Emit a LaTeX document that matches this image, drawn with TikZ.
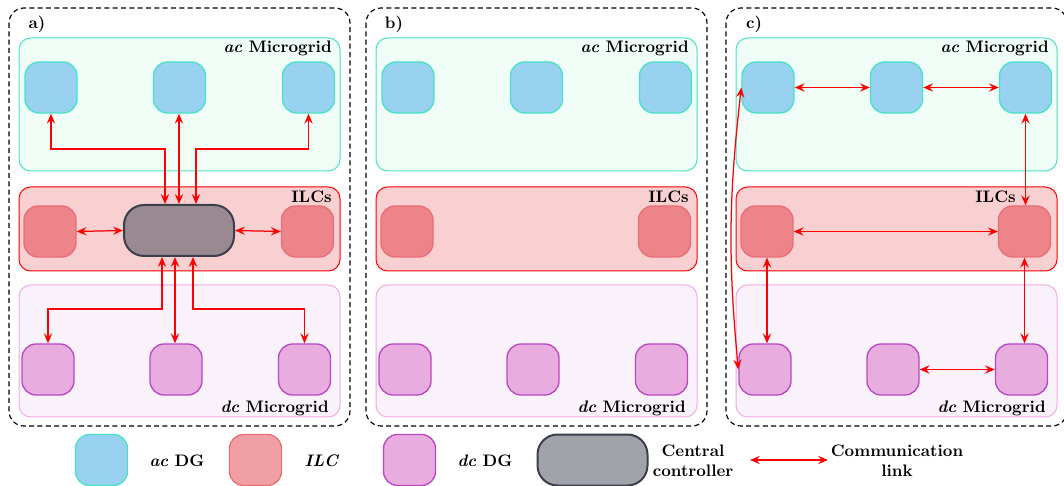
\documentclass[tikz,border=0pt]{standalone}
\usepackage{amsmath,amssymb}
\usepackage{tikz}
\usetikzlibrary{arrows.meta}

\definecolor{acline}{RGB}{72,226,200}
\definecolor{acfill}{RGB}{152,210,240}
\definecolor{acback}{RGB}{240,252,246}
\definecolor{ilcred}{RGB}{218,18,28}
\definecolor{ilcline}{RGB}{232,110,120}
\definecolor{ilcback}{RGB}{248,208,210}
\definecolor{dcdgline}{RGB}{184,72,196}
\definecolor{dcfill}{RGB}{232,172,222}
\definecolor{dcline}{RGB}{240,170,230}
\definecolor{dcback}{RGB}{250,242,250}
\definecolor{ctrlline}{RGB}{60,62,75}
\definecolor{ctrlfill}{RGB}{152,138,144}
\definecolor{ctrlleg}{RGB}{160,164,170}

\begin{document}
\begin{tikzpicture}[x=0.6pt,y=-0.6pt,
    panel/.style={draw=black,densely dashed,line width=0.7pt,rounded corners=9pt},
    acbox/.style={draw=acline,fill=acback,line width=0.6pt,rounded corners=7pt},
    ilcbox/.style={draw=red,fill=ilcback,line width=0.6pt,rounded corners=7pt},
    dcbox/.style={draw=dcline,fill=dcback,line width=0.6pt,rounded corners=7pt},
    unit/.style={minimum width=31.2pt,minimum height=30.6pt,rounded corners=8.4pt,line width=0.8pt,inner sep=0pt},
    acdg/.style={unit,draw=acline,fill=acfill},
    ilc/.style={unit,draw=ilcline,fill=ilcred,fill opacity=0.4},
    dcdg/.style={unit,draw=dcdgline,fill=dcfill},
    ctrl/.style={minimum width=66pt,minimum height=30.6pt,rounded corners=12pt,line width=1.2pt,draw=ctrlline,fill=ctrlfill,inner sep=0pt},
    comm/.style={red,line width=0.75pt,<->,>={Stealth[length=6pt,width=5pt,inset=2.2pt]}},
    lbl/.style={font=\bfseries,inner sep=0pt}]
  \useasboundingbox (0,0) rectangle (1064,486);

  % the three panels
  \foreach \p/\s/\lx in {a/0/332,b/357/332,c/717/299}{
    \begin{scope}[xshift=\s*0.6pt]
      \draw[panel] (9,8) rectangle (350,426);
      \node[lbl,anchor=base] (\p-tag) at (37,29) {\p)};
      % microgrids
      \draw[acbox] (19,38) rectangle (340,171);
      \draw[ilcbox] (19,187) rectangle (340,271);
      \draw[dcbox] (19,285) rectangle (340,417);
      \node[lbl,anchor=base east] (\p-aclbl) at (332,53) {\textit{ac} Microgrid};
      \node[lbl,anchor=base east] (\p-ilclbl) at (\lx,203) {ILCs};
      \node[lbl,anchor=base east] (\p-dclbl) at (329,413) {\textit{dc} Microgrid};
      % units
      \node[acdg] (\p-ac1) at (51,87.5) {};
      \node[acdg] (\p-ac2) at (179.5,87.5) {};
      \node[acdg] (\p-ac3) at (308.5,87.5) {};
      \node[ilc] (\p-il1) at (50,231.5) {};
      \node[ilc] (\p-il2) at (307.5,231.5) {};
      \node[dcdg] (\p-dc1) at (48,369.5) {};
      \node[dcdg] (\p-dc2) at (176,369.5) {};
      \node[dcdg] (\p-dc3) at (304.5,369.5) {};
    \end{scope}
  }

  % a) central controller
  \node[ctrl] (cc) at (179,230.5) {};
  \draw[comm] ([xshift=-8.4pt]cc.north) -- ++(0,-55) -| (a-ac1.south);
  \draw[comm] (cc.north) -- (cc.north |- a-ac2.south);
  \draw[comm] ([xshift=10.2pt]cc.north) -- ++(0,-55) -| (a-ac3.south);
  \draw[comm] (a-il1.east) -- (cc.west);
  \draw[comm] (cc.east) -- (a-il2.west);
  \draw[comm] ([xshift=-10.2pt]cc.south) -- ++(0,52) -| (a-dc1.north);
  \draw[comm] ([xshift=-2.4pt]cc.south) -- ([xshift=-2.4pt]cc.south |- a-dc2.north);
  \draw[comm] ([xshift=8.4pt]cc.south) -- ++(0,52) -| (a-dc3.north);

  % c) distributed links
  \draw[comm] (c-ac1.east) -- (c-ac2.west);
  \draw[comm] (c-ac2.east) -- (c-ac3.west);
  \draw[comm] (c-ac3.south) -- (c-ac3.south |- c-il2.north);
  \draw[comm] (c-il1.east) -- (c-il2.west);
  \draw[comm] (c-il1.south) -- (c-il1.south |- c-dc1.north);
  \draw[comm] (c-il2.south) -- (c-il2.south |- c-dc3.north);
  \draw[comm] (c-dc2.east) -- (c-dc3.west);
  \draw[comm] (c-ac1.west) to[bend right=6] (c-dc1.west);

  % legend
  \node[acdg] (lg-ac) at (101.5,460) {};
  \node[lbl] (lg-actx) at (177,461) {\textit{ac} DG};
  \node[ilc] (lg-il) at (255.5,460) {};
  \node[lbl] (lg-iltx) at (322,461) {\textit{ILC}};
  \node[dcdg] (lg-dc) at (409.5,460) {};
  \node[lbl] (lg-dctx) at (485,461) {\textit{dc} DG};
  \node[ctrl,fill=ctrlleg] (lg-cc) at (592.5,460) {};
  \node[lbl,align=center] (lg-cctx) at (693,461) {Central\\controller};
  \coordinate (lg-l) at (750,460);
  \coordinate (lg-r) at (828,460);
  \draw[comm] (lg-l) -- (lg-r);
  \node[lbl,align=center] (lg-cmtx) at (897,461) {Communication\\link};
\end{tikzpicture}
\end{document}
